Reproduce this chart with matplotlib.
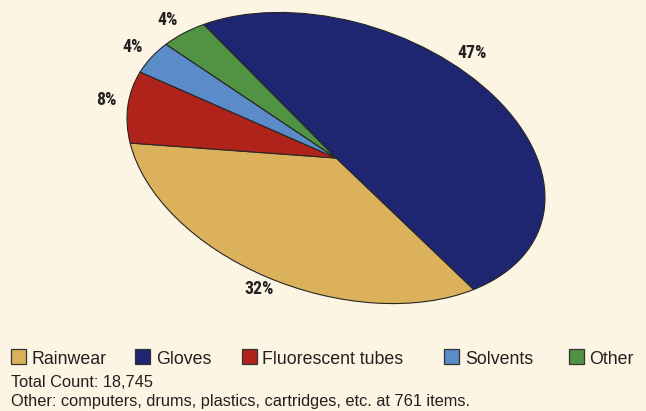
import matplotlib
matplotlib.use("Agg")
import matplotlib.pyplot as plt
import numpy as np
from matplotlib.transforms import Affine2D
from matplotlib.patches import Rectangle

# Share of hazardous-waste items by type (percent of total count)
categories = ["Rainwear", "Gloves", "Fluorescent tubes", "Solvents", "Other"]
shares = [32, 47, 8, 4, 4]
colors = ["#DBB15C", "#1E2672", "#B0231B", "#5B8BC9", "#4F9343"]
pct_labels = ["32%", "47%", "8%", "4%", "4%"]
total_count = "18,745"
other_note = "Other: computers, drums, plastics, cartridges, etc. at 761 items."

# Wedges run clockwise in this order around the disc
wedge_order = ["Gloves", "Rainwear", "Fluorescent tubes", "Solvents", "Other"]

BG = "#FCF5E4"
INK = "#231F20"
W, H = 646, 411
fig = plt.figure(figsize=(W / 100, H / 100), dpi=100, facecolor=BG)
ax = fig.add_axes([0, 0, 1, 1])
ax.set_facecolor(BG)

idx = [categories.index(c) for c in wedge_order]
wedges, _ = ax.pie([shares[i] for i in idx],
                   colors=[colors[i] for i in idx],
                   startangle=141.0, counterclock=False, radius=1.0,
                   wedgeprops=dict(edgecolor="#262626", linewidth=0.8))

# Tilt the disc: stretch into an ellipse and rotate it
tilt = Affine2D().scale(215.4, 135.9).rotate_deg(-18.2).translate(336, 253)
for w in wedges:
    w.set_transform(tilt + ax.transData)

ax.set_xlim(0, W)
ax.set_ylim(0, H)
ax.set_aspect("auto")
ax.axis("off")

# Percentage labels just outside each wedge
label_font = dict(family=["Liberation Sans Narrow", "DejaVu Sans Condensed",
                          "Roboto Condensed", "Liberation Sans"],
                  fontweight="bold", fontsize=12.8, color=INK)
angle_shift = {"Gloves": 15.0}
for w, name in zip(wedges, wedge_order):
    mid = np.deg2rad((w.theta1 + w.theta2) / 2 + angle_shift.get(name, 0.0))
    r = 1.14 if name == "Gloves" else 1.105
    x, y = tilt.transform((r * np.cos(mid), r * np.sin(mid)))
    ax.text(x, y, pct_labels[categories.index(name)], ha="center", va="center",
            **label_font)

# Legend row: swatch + name for each category (pixel layout)
text_font = ["Liberation Sans", "DejaVu Sans"]
swatch_x = [10.7, 135, 241.7, 444.3, 568.7]
swatch_size = 15
row_bottom = 47
for sx, name, col in zip(swatch_x, categories, colors):
    ax.add_patch(Rectangle((sx, row_bottom), swatch_size, swatch_size,
                           facecolor=col, edgecolor="#333333", linewidth=0.9))
    ax.text(sx + 20.8, row_bottom, name, ha="left", va="baseline",
            family=text_font, fontsize=12.8, color=INK)

ax.text(11, 24, "Total Count: " + total_count, ha="left", va="baseline",
        family=text_font, fontsize=11.8, color=INK)
ax.text(11, 5, other_note, ha="left", va="baseline",
        family=text_font, fontsize=11.8, color=INK)

fig.savefig("out.png", dpi=100, facecolor=BG)
